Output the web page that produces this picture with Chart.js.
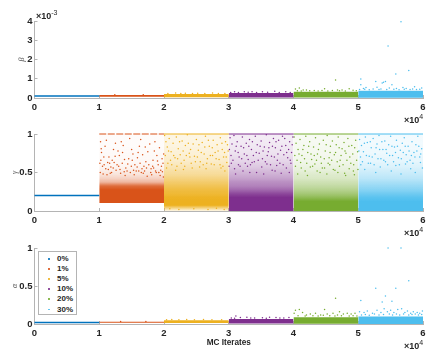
<!DOCTYPE html>
<html>
<head>
<meta charset="utf-8">
<script src="https://cdn.jsdelivr.net/npm/chart.js@4"></script>
<style>
html, body { margin: 0; padding: 0; background: #fff; }
body { position: relative; width: 436px; height: 363px; overflow: hidden; font-family: "Liberation Sans", sans-serif; color: #262626; }
canvas { position: absolute; left: 0; }
.exp { position: absolute; font-size: 9px; font-weight: bold; line-height: 10px; white-space: nowrap; }
.exp sup { font-size: 7px; line-height: 0; font-weight: normal; }
#legend { position: absolute; left: 38px; top: 251px; width: 37px; height: 62px; border: 1px solid #b4b4b4; background: #fff; z-index: 2; }
#legend div { position: absolute; left: 18px; font-size: 8px; font-weight: bold; line-height: 10px; }
#legend i { position: absolute; left: -9px; top: 4px; width: 1.5px; height: 1.5px; border-radius: 50%; }
</style>
</head>
<body>
<canvas id="betaChart" width="436" height="117" style="top:0;width:436px;height:117px"></canvas>
<canvas id="gammaChart" width="436" height="112" style="top:119px;width:436px;height:112px"></canvas>
<canvas id="alphaChart" width="436" height="112" style="top:236px;width:436px;height:112px"></canvas>
<div class="exp" style="left:36px;top:11px">×10<sup>-3</sup></div>
<div class="exp" style="left:404px;top:115px">×10<sup>4</sup></div>
<div class="exp" style="left:404px;top:228px">×10<sup>4</sup></div>
<div class="exp" style="left:404px;top:341px">×10<sup>4</sup></div>
<div id="legend"></div>
<script>
const labels = ["0%", "1%", "5%", "10%", "20%", "30%"];
const colors = ["#0072bd", "#d95319", "#edb120", "#7e2f8e", "#77ac30", "#4dbeee"];
const starts = [0, 10000, 20000, 30000, 40000, 50000];
const ends = [10000, 20000, 30000, 40000, 50000, 60000];
const xTicks = [0, 10000, 20000, 30000, 40000, 50000, 60000];

// beta: lower and upper edge of the solid strip of each run
const betaLow = [0.00009, 0.00006, 0.00004, 0.00003, 0.00002, 0.00001];
const betaHigh = [0.00011, 0.00016, 0.00021, 0.00026, 0.00033, 0.00038];
const betaPoints0 = [];
const betaPoints1 = [[12400,.000175],[16800,.000175]];
const betaPoints2 = [[21800,.00026],[23300,.00025],[27500,.00026],[25200,.00025],[20600,.00023],[22600,.00023],[24400,.00023],[26300,.00024],[28400,.00023],[29400,.00024]];
const betaPoints3 = [[30900,.00033],[32400,.00032],[35200,.00033],[37100,.00035],[38800,.00033],[33600,.00032],[30300,.00029],[31500,.00029],[33000,.0003],[34300,.00029],[36000,.0003],[37800,.00029],[39500,.00029]];
const betaPoints4 = [[40300,.00047],[40900,.00052],[42000,.00042],[44800,.00048],[46500,.00093],[46800,.00041],[48600,.00048],[47500,.00042],[41500,.00041],[43200,.00039],[49200,.0004],[40600,.00038],[41200,.00037],[42500,.00038],[43800,.00037],[44400,.00039],[45300,.00037],[46000,.00039],[47100,.00038],[48000,.00037],[49700,.00038]];
const betaPoints5 = [[56600,.00396],[54600,.0027],[57800,.00143],[55800,.00125],[50400,.00099],[50400,.00069],[52700,.00086],[54200,.00086],[53700,.00078],[55200,.00069],[53900,.00082],[51200,.00055],[52900,.00056],[54800,.00052],[56900,.00054],[58700,.00058],[59800,.00052],[50800,.0005],[57400,.0005],[55900,.0005],[50200,.00044],[51000,.00045],[51700,.00043],[52300,.00047],[53200,.00044],[53500,.00047],[54400,.00044],[55500,.00046],[56300,.00043],[57100,.00046],[58000,.00044],[58400,.00047],[59000,.00044],[59500,.00046]];

// gamma: fixed run at 0.2, then a density value per level for each run
const gammaFixed = 0.2;
const gammaLevels = [0, .05, .1, .15, .2, .25, .3, .35, .4, .45, .5, .55, .6, .7, .8, .9, 1];
const gammaShade1 = [0, 0, 1, 1, 1, 1, .85, .42, .26, .16, .1, .06, .04, .03, .02, .02];
const gammaShade2 = [.1, 1, 1, .98, .9, .85, .76, .66, .56, .46, .4, .32, .24, .18, .14, .12];
const gammaShade3 = [1, 1, 1, 1, .88, .72, .6, .54, .44, .38, .32, .26, .2, .14, .11, .09];
const gammaShade4 = [1, 1, 1, .82, .66, .54, .44, .36, .28, .24, .18, .14, .1, .08, .07, .06];
const gammaShade5 = [1, 1, 1, .92, .8, .68, .58, .48, .38, .32, .26, .2, .14, .1, .08, .07];
const gammaTopDash = [[], [7, 1.5], [], [], [], []];
const gammaPoints1 = [[10200,.9],[10300,.81],[10350,.76],[10900,.84],[11100,.92],[11500,.7],[11600,.62],[11800,.57],[12000,.66],[12300,.63],[12500,.88],[12900,.78],[13100,.72],[13400,.9],[13700,.85],[13900,.67],[14100,.56],[14400,.61],[14700,.94],[15000,.8],[15200,.74],[15500,.6],[15700,.52],[15900,.69],[16200,.84],[16400,.93],[16700,.73],[16900,.58],[17200,.64],[17500,.77],[17800,.87],[18000,.55],[18300,.66],[18600,.9],[18900,.72],[19100,.6],[19300,.82],[19500,.53],[19700,.68],[19850,.62],[19900,.44],[10150,.5],[10600,.48],[11200,.47],[11900,.5],[12600,.53],[13300,.49],[14000,.46],[14800,.5],[15400,.47],[16100,.52],[16800,.49],[17400,.45],[18100,.47],[18800,.5],[19400,.46],[10500,.58],[11400,.54],[13000,.58],[14300,.52],[16600,.55],[18400,.56],
[10250,.66],[10750,.6],[11000,.55],[11300,.63],[11700,.49],[12150,.56],[12450,.71],[12750,.6],[13200,.54],[13550,.62],[13850,.51],[14550,.68],[14950,.58],[15300,.53],[15850,.57],[16300,.62],[16500,.5],[17000,.52],[17300,.56],[17650,.6],[17950,.5],[18250,.58],[18700,.52],[19000,.65],[19200,.5],[19600,.58],[19750,.51],[10100,.62],[10700,.7],[12200,.8],[13600,.76],[15100,.66],[16000,.76],[17100,.83],[18500,.78],[19950,.74]];
const gammaPoints2 = [[20100,.98],[20300,.9],[20500,.83],[20800,.94],[21100,.77],[21400,.88],[21700,.69],[21900,.96],[22200,.81],[22500,.73],[22800,.91],[23100,.66],[23300,.85],[23600,.99],[23900,.75],[24200,.62],[24500,.87],[24700,.71],[25000,.93],[25300,.79],[25600,.64],[25900,.89],[26200,.74],[26400,.97],[26700,.68],[27000,.84],[27300,.61],[27600,.92],[27900,.76],[28200,.86],[28500,.67],[28700,.95],[29000,.8],[29200,.7],[29500,.9],[29700,.63],[29900,.78],[20600,.62],[21000,.66],[22000,.58],[23000,.54],[24000,.7],[25500,.57],[26500,.55],[27500,.72],[28800,.56],[29400,.52],[20900,.03],[22300,.02],[24600,.03],[26800,.02],[28100,.035],[29300,.02],
[20200,.72],[20400,.56],[20700,.78],[21200,.6],[21500,.72],[21800,.53],[22100,.68],[22400,.9],[22650,.62],[22950,.78],[23200,.58],[23450,.72],[23750,.88],[24100,.8],[24350,.56],[24850,.64],[25150,.7],[25400,.86],[25750,.76],[26050,.6],[26300,.83],[26600,.62],[26850,.92],[27150,.72],[27450,.82],[27750,.6],[28050,.68],[28350,.78],[28650,.6],[28950,.88],[29100,.58],[29350,.76],[29600,.7],[29800,.86]];
const gammaPoints3 = [[30200,.95],[30500,.87],[30800,.98],[31000,.78],[31300,.9],[31600,.7],[31900,.84],[32100,.96],[32400,.74],[32700,.88],[33000,.67],[33200,.93],[33500,.8],[33800,.72],[34100,.97],[34400,.86],[34700,.75],[35000,.91],[35200,.68],[35500,.83],[35800,.99],[36100,.77],[36300,.89],[36600,.71],[36900,.94],[37200,.82],[37500,.66],[37700,.92],[38000,.79],[38300,.97],[38500,.73],[38800,.85],[39100,.69],[39400,.9],[39700,.76],[39900,.96],[30400,.62],[30900,.55],[31500,.6],[32200,.52],[32900,.58],[33600,.63],[34300,.5],[35100,.57],[35900,.61],[36700,.53],[37400,.59],[38100,.49],[38900,.56],[39600,.62],
[30100,.8],[30350,.72],[30650,.66],[31150,.84],[31450,.76],[31750,.58],[32000,.68],[32300,.82],[32550,.62],[32800,.72],[33100,.84],[33350,.6],[33650,.9],[33950,.64],[34250,.76],[34550,.66],[34850,.84],[35300,.78],[35650,.64],[35950,.72],[36200,.82],[36450,.6],[36750,.84],[37050,.7],[37300,.9],[37600,.74],[37900,.62],[38200,.84],[38400,.6],[38650,.94],[38950,.76],[39250,.8],[39500,.66],[39800,.86],[30050,.58],[31050,.48],[33250,.5],[35400,.48],[37150,.52],[39350,.5]];
const gammaPoints4 = [[40100,.96],[40400,.88],[40700,.8],[41000,.93],[41300,.72],[41600,.85],[41900,.97],[42200,.76],[42500,.9],[42800,.67],[43100,.83],[43400,.95],[43700,.74],[44000,.87],[44300,.62],[44600,.92],[44900,.78],[45200,.98],[45500,.69],[45700,.84],[46000,.91],[46300,.73],[46600,.86],[46900,.96],[47200,.66],[47500,.81],[47800,.89],[48100,.75],[48400,.94],[48700,.7],[49000,.85],[49300,.6],[49600,.92],[49900,.77],[40300,.58],[41100,.63],[41800,.52],[42600,.57],[43300,.61],[44100,.5],[44800,.56],[45600,.6],[46400,.53],[47100,.58],[47900,.49],[48600,.55],[49400,.47],
[40200,.72],[40550,.66],[40850,.74],[41200,.56],[41450,.8],[41700,.68],[42050,.62],[42350,.84],[42700,.74],[42950,.58],[43200,.72],[43550,.66],[43850,.8],[44200,.7],[44450,.56],[44750,.68],[45050,.86],[45350,.62],[45650,.76],[45900,.66],[46150,.54],[46500,.76],[46750,.64],[47050,.82],[47350,.72],[47650,.6],[47950,.78],[48250,.66],[48550,.84],[48850,.62],[49150,.74],[49450,.82],[49750,.66],[49950,.54],[40650,.48],[42150,.46],[43650,.52],[45150,.48],[46850,.5],[48050,.46],[49250,.52]];
const gammaPoints5 = [[50200,.93],[50500,.85],[50800,.77],[51100,.96],[51400,.89],[51700,.71],[52000,.82],[52300,.94],[52600,.74],[52900,.87],[53200,.98],[53500,.68],[53800,.8],[54100,.91],[54400,.75],[54700,.86],[55000,.97],[55300,.72],[55600,.83],[55900,.92],[56200,.69],[56500,.79],[56800,.88],[57100,.95],[57400,.73],[57700,.84],[58000,.66],[58300,.9],[58600,.76],[58900,.86],[59200,.97],[59500,.7],[59800,.81],[50400,.6],[51000,.54],[51900,.62],[52700,.5],[53400,.57],[54200,.64],[55100,.52],[55800,.59],[56600,.48],[57300,.61],[58100,.55],[58800,.5],[59600,.63],
[50100,.78],[50350,.7],[50650,.64],[50950,.88],[51250,.72],[51550,.62],[51850,.9],[52150,.7],[52450,.6],[52750,.82],[53050,.68],[53300,.8],[53650,.9],[53950,.66],[54300,.8],[54550,.6],[54850,.72],[55200,.84],[55450,.64],[55750,.76],[56050,.84],[56350,.6],[56650,.68],[56950,.76],[57250,.84],[57550,.64],[57850,.78],[58200,.72],[58450,.62],[58750,.7],[59050,.78],[59350,.84],[59650,.74],[59900,.56]];

// alpha: lower and upper edge of the solid strip of each run
const alphaLow = [.018, .016, .012, .006, .004, .001];
const alphaHigh = [.024, .031, .05, .065, .09, .1];
const alphaPoints0 = [];
const alphaPoints1 = [[13300,.034],[17200,.034]];
const alphaPoints2 = [[20400,.056],[21200,.06],[22300,.056],[23500,.058],[24700,.055],[26100,.06],[27400,.057],[28900,.056]];
const alphaPoints3 = [[30400,.08],[31100,.105],[31800,.085],[32800,.09],[34000,.08],[35200,.082],[36300,.09],[37300,.085],[38500,.08],[39300,.085],[30900,.075],[33400,.078],[35800,.076],[37900,.078]];
const alphaPoints4 = [[46500,.34],[40900,.19],[40300,.18],[44800,.19],[40100,.14],[41400,.15],[42600,.13],[43400,.14],[45200,.13],[46100,.14],[47100,.16],[47700,.13],[48300,.14],[48900,.13],[49500,.14],[44200,.12],[42000,.12],[46800,.12],[40700,.11],[41800,.105],[43000,.11],[43800,.105],[44600,.115],[45600,.11],[46400,.105],[47400,.11],[48600,.105],[49200,.11],[49800,.105]];
const alphaPoints5 = [[54600,1],[56600,1],[57800,.57],[55800,.47],[52700,.47],[54200,.37],[50400,.31],[53700,.29],[55200,.3],[59900,.17],[50200,.16],[50900,.15],[51400,.17],[52200,.14],[52900,.18],[53500,.15],[54000,.2],[54500,.16],[55000,.18],[55500,.15],[56100,.19],[56700,.2],[57200,.15],[57600,.17],[58100,.14],[58500,.16],[59100,.15],[59500,.14],[50500,.12],[51100,.125],[51700,.115],[52500,.13],[53200,.12],[53900,.125],[54800,.13],[55300,.12],[55900,.13],[56400,.12],[57000,.13],[57800,.12],[58300,.125],[58800,.13],[59300,.12],[59800,.125]];

const gammaShades = [[], gammaShade1, gammaShade2, gammaShade3, gammaShade4, gammaShade5];
const gammaPoints = [[], gammaPoints1, gammaPoints2, gammaPoints3, gammaPoints4, gammaPoints5];
const betaPoints = [betaPoints0, betaPoints1, betaPoints2, betaPoints3, betaPoints4, betaPoints5];
const alphaPoints = [alphaPoints0, alphaPoints1, alphaPoints2, alphaPoints3, alphaPoints4, alphaPoints5];

function toRgba (hex, a)
{
    const n = parseInt(hex.slice(1), 16);
    return `rgba(${n >> 16},${(n >> 8) & 255},${n & 255},${a})`;
}

function band (i, lo, hi)
{
    return {
        data: [{x: starts[i], y: hi}, {x: ends[i], y: hi}],
        showLine: true, borderWidth: 0, pointRadius: 0,
        backgroundColor: colors[i],
        fill: {target: {value: lo}},
        clip: false
    };
}

// density of the run turned into a vertical gradient, through the y scale
function densityBand (i)
{
    return {
        data: [{x: starts[i], y: 1}, {x: ends[i], y: 1}],
        showLine: true, borderWidth: 0, pointRadius: 0,
        fill: {target: {value: 0}},
        clip: false,
        backgroundColor: c => {
            const y = c.chart.scales.y;
            const y0 = y ? y.getPixelForValue(0) : NaN;
            const y1 = y ? y.getPixelForValue(1) : NaN;
            if (!isFinite(y0) || !isFinite(y1)) return "transparent";
            const grad = c.chart.ctx.createLinearGradient(0, y0, 0, y1);
            const shade = gammaShades[i];
            shade.forEach((a, k) => {
                if (a > 0 && (k == 0 || shade[k - 1] == 0)) {
                    grad.addColorStop(gammaLevels[k], toRgba(colors[i], 0));
                    grad.addColorStop(gammaLevels[k], toRgba(colors[i], a));
                } else {
                    grad.addColorStop((gammaLevels[k] + gammaLevels[k + 1]) / 2, toRgba(colors[i], a));
                }
            });
            return grad;
        }
    };
}

function dots (i, pts)
{
    return {
        data: pts.map(p => ({x: p[0], y: p[1]})),
        showLine: false, pointRadius: 0.75, borderWidth: 0,
        pointBackgroundColor: colors[i], clip: false
    };
}

function line (i, y, width, dash)
{
    return {
        data: [{x: starts[i], y: y}, {x: ends[i], y: y}],
        showLine: true, borderColor: colors[i], borderWidth: width, borderDash: dash || [], pointRadius: 0, clip: false
    };
}

function makeChart (id, datasets, cfg)
{
    return new Chart(document.getElementById(id), {
        type: "scatter",
        data: {datasets},
        options: {
            responsive: false, animation: false,
            layout: {padding: {top: cfg.top, right: 13, left: 0, bottom: 0}},
            plugins: {legend: {display: false}, tooltip: {enabled: false}},
            scales: {
                x: {
                    type: "linear", min: 0, max: 60000,
                    afterBuildTicks: s => { s.ticks = xTicks.map(v => ({value: v})); },
                    afterFit: s => { s.height = cfg.bottom; },
                    grid: {drawOnChartArea: false, tickLength: -3, color: "#b4b4b4"},
                    border: {color: "#b4b4b4"},
                    ticks: {
                        padding: 7, maxRotation: 0, color: "#262626",
                        font: {family: "Liberation Sans", size: 9.5, weight: "bold"},
                        callback: v => v / 10000
                    },
                    title: cfg.xTitle ? {
                        display: true, text: cfg.xTitle, color: "#262626", padding: {top: 2, bottom: 0},
                        font: {family: "Liberation Sans", size: 8.2, weight: "bold"}
                    } : {display: false}
                },
                y: {
                    min: 0, max: cfg.max,
                    afterBuildTicks: s => { s.ticks = cfg.ticks.map(v => ({value: v})); },
                    afterFit: s => { s.width = 34.5; },
                    grid: {drawOnChartArea: false, tickLength: -3, color: "#b4b4b4"},
                    border: {color: "#b4b4b4"},
                    ticks: {
                        padding: 5, color: "#262626",
                        font: {family: "Liberation Sans", size: 9.5, weight: "bold"},
                        callback: cfg.format
                    },
                    title: {
                        display: true, text: cfg.title, color: "#555",
                        padding: {top: cfg.titlePad, bottom: 0},
                        font: {family: "Liberation Serif", size: 8, style: "italic"}
                    }
                }
            }
        }
    });
}

const betaSets = [line(0, 0.0001, 1.5)];
for (let i = 1; i < 6; i++) {
    betaSets.push(band(i, betaLow[i], betaHigh[i]), dots(i, betaPoints[i]));
}
makeChart("betaChart", betaSets, {
    top: 21, bottom: 19, max: 0.004, ticks: [0, 0.001, 0.002, 0.003, 0.004],
    format: v => Math.round(v * 1000), title: "β", titlePad: 17
});

const gammaSets = [line(0, gammaFixed, 1.5)];
for (let i = 1; i < 6; i++) {
    gammaSets.push(densityBand(i), dots(i, gammaPoints[i]), line(i, 1, 1, gammaTopDash[i]));
}
const gammaChart = makeChart("gammaChart", gammaSets, {
    top: 15, bottom: 20, max: 1, ticks: [0, 0.5, 1],
    format: v => v, title: "γ", titlePad: 10
});
gammaChart.update();

const alphaSets = [line(0, 0.02, 1.5)];
for (let i = 1; i < 6; i++) {
    alphaSets.push(band(i, alphaLow[i], alphaHigh[i]), dots(i, alphaPoints[i]));
}
makeChart("alphaChart", alphaSets, {
    top: 12, bottom: 24, max: 1, ticks: [0, 0.5, 1],
    format: v => v, title: "α", titlePad: 10, xTitle: "MC Iterates"
});

const legend = document.getElementById("legend");
labels.forEach((name, i) => {
    const row = document.createElement("div");
    row.style.top = (2 + i * 10.1) + "px";
    row.textContent = name;
    const mark = document.createElement("i");
    mark.style.background = colors[i];
    row.appendChild(mark);
    legend.appendChild(row);
});
</script>
</body>
</html>
